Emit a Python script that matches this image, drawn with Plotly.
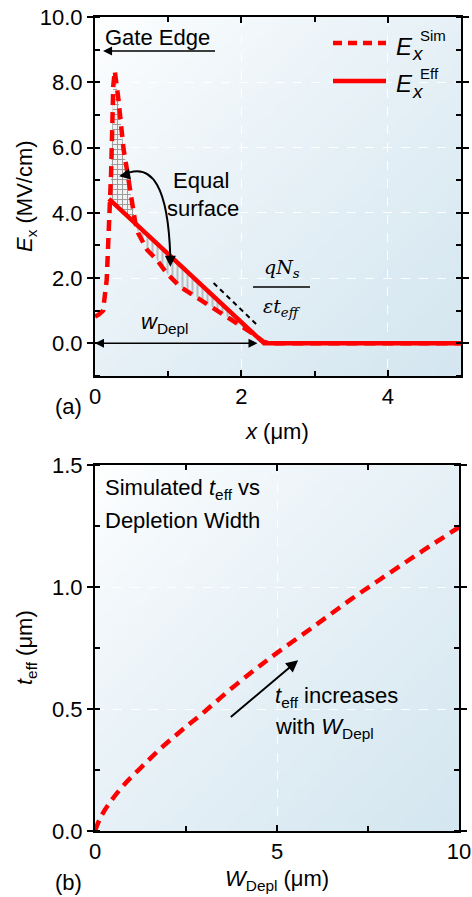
import base64, struct, zlib
import numpy as np
import plotly.graph_objects as go

# ---------------- data ----------------
# Panel (a): simulated field E_x^Sim (MV/cm) vs x (um)
sim_x = [0.00, 0.05, 0.11, 0.16, 0.205, 0.22, 0.25, 0.27, 0.32, 0.39, 0.45, 0.50, 0.55,
         0.59, 0.71, 0.845, 0.98, 1.16, 1.44, 1.67, 1.89, 2.05, 2.20, 2.30, 2.40, 5.00]
sim_y = [0.82, 0.88, 1.00, 1.95, 4.40, 5.20, 7.90, 8.35, 7.48, 5.95, 5.13, 4.40, 3.70,
         3.38, 2.87, 2.56, 2.15, 1.74, 1.33, 1.02, 0.66, 0.45, 0.23, 0.05, 0.00, 0.00]
# Panel (a): effective field E_x^Eff
eff_x = [0.19, 2.31, 5.00]
eff_y = [4.43, 0.00, 0.00]
# hatched regions (index ranges into the sim arrays)
peak_rng = (4, 12)     # crosshatched region above Eff
tail_rng = (12, 22)    # line-hatched region below Eff

# Panel (b): t_eff (um) vs W_Depl (um)
w_depl = [0.0, 0.15, 0.40, 0.80, 1.25, 1.80, 2.40, 3.00, 3.70, 4.40, 5.00, 6.00, 7.00, 8.00, 9.00, 10.0]
t_eff = [0.0, 0.055, 0.115, 0.190, 0.258, 0.338, 0.415, 0.488, 0.578, 0.662, 0.730, 0.837, 0.946, 1.048, 1.148, 1.245]

RED = "#ff0000"
FONT = "Liberation Sans, Arial, sans-serif"
FS = 22

W, H = 472, 897


def pxx(p):  # window pixel x -> paper
    return p / W


def py(p):  # window pixel y -> paper
    return 1 - p / H


# ---------------- gradient background (PNG data URI) ----------------
def gradient_png(w=64, h=64, c0=(255, 255, 255), c1=(212, 230, 240)):
    raw = b""
    for j in range(h):
        raw += b"\x00"
        row = bytearray()
        for i in range(w):
            t = (i / (w - 1) + j / (h - 1)) / 2.0
            t = t ** 0.8
            row += bytes(int(round(c0[k] + (c1[k] - c0[k]) * t)) for k in range(3))
        raw += bytes(row)

    def chunk(tag, data):
        c = struct.pack(">I", len(data)) + tag + data
        return c + struct.pack(">I", zlib.crc32(tag + data) & 0xffffffff)

    png = b"\x89PNG\r\n\x1a\n" + chunk(b"IHDR", struct.pack(">IIBBBBB", w, h, 8, 2, 0, 0, 0))
    png += chunk(b"IDAT", zlib.compress(raw, 9)) + chunk(b"IEND", b"")
    return "data:image/png;base64," + base64.b64encode(png).decode()


bg = gradient_png()

fig = go.Figure()

# hatched regions
px0, px1 = peak_rng
fig.add_trace(go.Scatter(x=sim_x[px0:px1 + 1], y=sim_y[px0:px1 + 1], mode="lines", fill="toself",
                         line=dict(width=0), fillcolor="rgba(255,255,255,0.9)",
                         fillpattern=dict(shape="+", fgcolor="#404040", bgcolor="#f2f2f2", size=5, solidity=0.35),
                         hoverinfo="skip", showlegend=False, xaxis="x", yaxis="y"))
tx0, tx1 = tail_rng
fig.add_trace(go.Scatter(x=sim_x[tx0:tx1 + 1], y=sim_y[tx0:tx1 + 1], mode="lines", fill="toself",
                         line=dict(width=0), fillcolor="rgba(0,0,0,0)",
                         fillpattern=dict(shape="|", fgcolor="#8a8a8a", bgcolor="rgba(0,0,0,0)", size=5, solidity=0.4),
                         hoverinfo="skip", showlegend=False, xaxis="x", yaxis="y"))

fig.add_trace(go.Scatter(x=eff_x, y=eff_y, mode="lines", line=dict(color=RED, width=4.5),
                         showlegend=False, xaxis="x", yaxis="y"))
fig.add_trace(go.Scatter(x=sim_x, y=sim_y, mode="lines", line=dict(color=RED, width=4.5, dash="11px,7px"),
                         showlegend=False, xaxis="x", yaxis="y"))

fig.add_trace(go.Scatter(x=w_depl, y=t_eff, mode="lines", line=dict(color=RED, width=4.5, dash="11px,7px", shape="spline"),
                         showlegend=False, xaxis="x2", yaxis="y2"))

axis_common = dict(showline=True, linecolor="black", linewidth=2, mirror="ticks", automargin=False,
                   ticklabeloverflow="allow",
                   showgrid=True, gridcolor="rgba(255,255,255,0.95)", griddash="dash", gridwidth=1,
                   zeroline=False, tickcolor="black", ticklen=6, tickwidth=1.5,
                   tickfont=dict(family=FONT, size=FS, color="black"),
                   minor=dict(ticks="inside", ticklen=5, tickwidth=1.5, tickcolor="black", showgrid=False))

fig.update_layout(
    width=W, height=H, margin=dict(l=0, r=0, t=0, b=0, autoexpand=False),
    paper_bgcolor="white", plot_bgcolor="rgba(0,0,0,0)",
    font=dict(family=FONT, size=FS, color="black"),
    showlegend=False,
    xaxis=dict(axis_common, domain=[pxx(95), pxx(461)], range=[0, 5], anchor="y", tickvals=[0, 2, 4],
               ticks="inside", minor=dict(axis_common["minor"], dtick=1, tick0=0)),
    yaxis=dict(axis_common, domain=[py(376), py(17)], range=[-1, 10], anchor="x",
               tickvals=[0, 2, 4, 6, 8, 10], ticktext=["0.0", "2.0", "4.0", "6.0", "8.0", "10.0"],
               ticks="outside", minor=dict(axis_common["minor"], dtick=1, tick0=1)),
    xaxis2=dict(axis_common, domain=[pxx(95), pxx(459)], range=[0, 10], anchor="y2", tickvals=[0, 5, 10],
                ticks="inside", minor=dict(axis_common["minor"], dtick=2.5, tick0=0)),
    yaxis2=dict(axis_common, domain=[py(831), py(465)], range=[0, 1.5], anchor="x2",
                tickvals=[0, 0.5, 1.0, 1.5], ticktext=["0.0", "0.5", "1.0", "1.5"],
                ticks="outside", minor=dict(axis_common["minor"], dtick=0.25, tick0=0)),
)

fig.update_layout(images=[
    dict(source=bg, xref="x domain", yref="y domain", x=0, y=1, sizex=1, sizey=1,
         sizing="stretch", layer="below", xanchor="left", yanchor="top"),
    dict(source=bg, xref="x2 domain", yref="y2 domain", x=0, y=1, sizex=1, sizey=1,
         sizing="stretch", layer="below", xanchor="left", yanchor="top"),
])

ann = []
shapes = []


def text(x, y, s, xref="paper", yref="paper", size=FS, xanchor="center", yanchor="middle", family=FONT, **kw):
    ann.append(dict(x=x, y=y, xref=xref, yref=yref, text=s, showarrow=False, xanchor=xanchor,
                    yanchor=yanchor, font=dict(family=family, size=size, color="black"), **kw))


# axis titles
text(pxx(277), py(431), "<i>x</i> (μm)")
text(pxx(26), py(196), "<i>E</i><sub>x</sub> (MV/cm)", textangle=-90)
text(pxx(277), py(880), "<i>W</i><sub>Depl</sub> (μm)")
text(pxx(26), py(648), "<i>t</i><sub>eff</sub> (μm)", textangle=-90)
text(pxx(68), py(406), "(a)")
text(pxx(68), py(882), "(b)")

# Gate edge
text(pxx(103), py(37), "Gate Edge", xanchor="left")
ann.append(dict(x=0.11, y=8.96, ax=1.66, ay=8.96, xref="x", yref="y",
                axref="x", ayref="y", text="", showarrow=True, arrowhead=2, arrowsize=1.2,
                arrowwidth=1.5, arrowcolor="black"))

# Equal surface
text(pxx(201), py(181), "Equal")
text(pxx(203), py(208), "surface")
shapes.append(dict(type="path", xref="x", yref="y", path="M 0.36,5.13 Q 1.0,5.9 1.03,2.5",
                   line=dict(color="black", width=2)))
ann.append(dict(x=0.33, y=5.12, xref="x", yref="y", ax=10, ay=-2, text="", showarrow=True,
                arrowhead=2, arrowsize=1.1, arrowwidth=2, arrowcolor="black"))
ann.append(dict(x=1.03, y=2.35, xref="x", yref="y", ax=0, ay=-10, text="", showarrow=True,
                arrowhead=2, arrowsize=1.1, arrowwidth=2, arrowcolor="black"))

# w_Depl double arrow
ann.append(dict(x=0.0, y=0.0, ax=2.24, ay=0.0, xref="x", yref="y", axref="x", ayref="y", text="",
                showarrow=True, arrowhead=2, startarrowhead=2, arrowside="end+start", arrowsize=1.2,
                arrowwidth=1.5, arrowcolor="black"))
text(0.95, 0.62, "<i>w</i><sub>Depl</sub>", xref="x", yref="y")

# slope indicator
shapes.append(dict(type="line", xref="x", yref="y", x0=1.62, y0=1.85, x1=2.24, y1=0.51,
                   line=dict(color="black", width=2, dash="5px,4px")))
SERIF = "DejaVu Serif, Liberation Serif, serif"
text(pxx(282), py(268), "<i>qN<sub>s</sub></i>", family=SERIF, size=19)
shapes.append(dict(type="line", xref="paper", yref="paper", x0=pxx(253), x1=pxx(310), y0=py(287), y1=py(287),
                   line=dict(color="black", width=1.5)))
text(pxx(282), py(307), "<i>εt<sub>eff</sub></i>", family=SERIF, size=19)

# legend
shapes.append(dict(type="line", xref="paper", yref="paper", x0=pxx(333), x1=pxx(386), y0=py(43), y1=py(43),
                   line=dict(color=RED, width=4.5, dash="9px,6px")))
shapes.append(dict(type="line", xref="paper", yref="paper", x0=pxx(333), x1=pxx(386), y0=py(81), y1=py(81),
                   line=dict(color=RED, width=4.5)))
for yy, sup in [(43, "Sim"), (81, "Eff")]:
    text(pxx(394), py(yy + 3), "<i>E</i>", xanchor="left", size=24)
    text(pxx(410), py(yy + 10), "<i>x</i>", xanchor="left", size=19)
    text(pxx(418), py(yy - 8), sup, xanchor="left", size=15)

# panel (b) annotations
text(pxx(103), py(489), "Simulated <i>t</i><sub>eff</sub> vs", xanchor="left")
text(pxx(103), py(520), "Depletion Width", xanchor="left")
ann.append(dict(x=5.58, y=0.70, ax=3.69, ay=0.462, xref="x2", yref="y2", axref="x2", ayref="y2", text="",
                showarrow=True, arrowhead=2, arrowsize=1.2, arrowwidth=2, arrowcolor="black"))
text(pxx(273), py(697), "<i>t</i><sub>eff</sub> increases", xanchor="left")
text(pxx(273), py(728), "with <i>W</i><sub>Depl</sub>", xanchor="left")

fig.update_layout(annotations=ann, shapes=shapes)
fig.write_html("out.html", config=dict(displayModeBar=False),
               post_script="document.body.style.margin='0';document.body.style.overflow='hidden';")
